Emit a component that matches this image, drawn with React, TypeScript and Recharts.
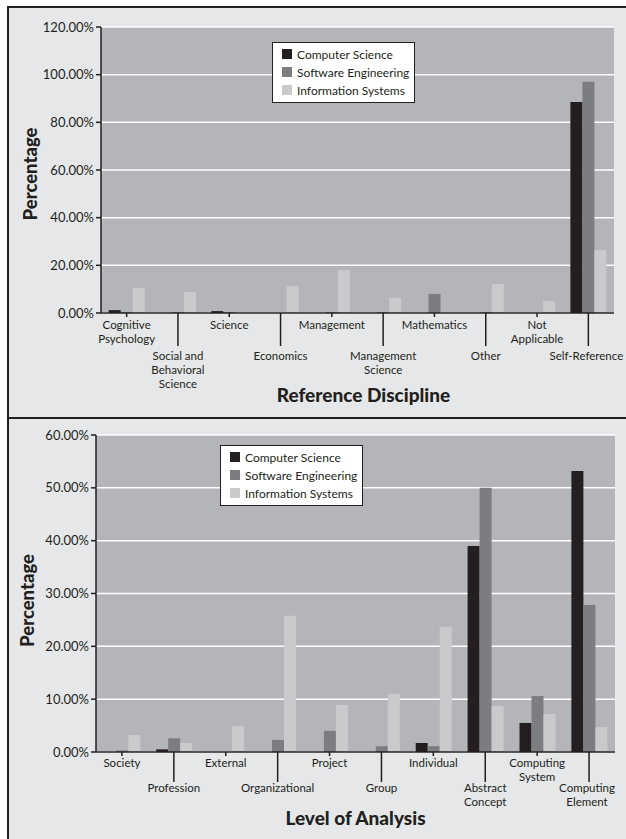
import React from "react"
import { BarChart, Bar, XAxis, YAxis, CartesianGrid, Legend } from "recharts"

// top panel: reference discipline
const disciplines = [
  "Cognitive\nPsychology",
  "Social and\nBehavioral\nScience",
  "Science",
  "Economics",
  "Management",
  "Management\nScience",
  "Mathematics",
  "Other",
  "Not\nApplicable",
  "Self-Reference",
]
const disciplineCS = [1.2, 0, 0.8, 0, 0, 0, 0, 0, 0, 88.5]
const disciplineSE = [0.4, 0.4, 0.4, 0, 0.4, 0.4, 8.0, 0.4, 0, 97.0]
const disciplineIS = [10.5, 8.8, 0, 11.3, 18.0, 6.4, 0, 12.2, 5.0, 26.4]
const disciplineTicks = [0, 20, 40, 60, 80, 100, 120]

// bottom panel: level of analysis
const levels = [
  "Society",
  "Profession",
  "External",
  "Organizational",
  "Project",
  "Group",
  "Individual",
  "Abstract\nConcept",
  "Computing\nSystem",
  "Computing\nElement",
]
const levelCS = [0, 0.5, 0, 0, 0, 0, 1.7, 39.0, 5.5, 53.2]
const levelSE = [0.3, 2.6, 0, 2.3, 4.0, 1.1, 1.1, 50.0, 10.6, 27.8]
const levelIS = [3.2, 1.7, 4.9, 25.8, 8.9, 11.0, 23.7, 8.7, 7.2, 4.7]
const levelTicks = [0, 10, 20, 30, 40, 50, 60]

const seriesNames = ["Computer Science", "Software Engineering", "Information Systems"]
const seriesColors = ["#231f20", "#7c7d81", "#c9cacc"]

const INK = "#231f20"
const PANEL = "#e6e7e8"
const PLOT = "#b4b5b8"

const toRows = (names: string[], cs: number[], se: number[], is: number[]) =>
  names.map((name, i) => ({ name, cs: cs[i], se: se[i], is: is[i] }))

const disciplineData = toRows(disciplines, disciplineCS, disciplineSE, disciplineIS)
const levelData = toRows(levels, levelCS, levelSE, levelIS)

const pct = (v: number) => `${v.toFixed(2)}%`

const makeTick = (highY: number, lowY: number, lineEnd: number, count: number) => (props: any) => {
  const { x, y, payload, index } = props
  const lines = String(payload.value).split("\n")
  const low = index % 2 === 1
  // keep the last label inside the frame
  const tx = index === count - 1 ? x - 2 : x
  return (
    <g>
      <line x1={x} y1={y} x2={x} y2={low ? y + lineEnd : y + 4} stroke={INK} strokeWidth={1.5} />
      <text x={tx} y={low ? y + lowY : y + highY} textAnchor="middle" fontSize={11.5} fill={INK}>
        {lines.map((l, i) => (
          <tspan key={i} x={tx} dy={i === 0 ? 0 : 14}>
            {l}
          </tspan>
        ))}
      </text>
    </g>
  )
}

const LegendBox = () => (
  <div
    style={{
      width: 143,
      height: 61,
      border: `1.5px solid ${INK}`,
      background: "#fff",
      boxSizing: "border-box",
      padding: "2px 0 0 9px",
      fontFamily: "Lato, sans-serif",
    }}
  >
    {seriesNames.map((name, i) => (
      <div key={name} style={{ display: "flex", alignItems: "center", height: 18, fontSize: 12, color: INK }}>
        <span style={{ width: 10, height: 10, background: seriesColors[i], marginRight: 5, display: "inline-block" }} />
        {name}
      </div>
    ))}
  </div>
)

interface PanelProps {
  data: { name: string; cs: number; se: number; is: number }[]
  width: number
  height: number
  margin: { top: number; right: number; bottom: number; left: number }
  yWidth: number
  xHeight: number
  yMax: number
  yTicks: number[]
  xTitle: string
  xTitleDy: number
  xTitleDx: number
  yTitleDx: number
  yTitleDy: number
  tick: (p: any) => React.ReactElement
  legendPos: { left: number; top: number }
  gap: string
}

const Panel = (p: PanelProps) => (
  <BarChart width={p.width} height={p.height} data={p.data} margin={p.margin} barGap={0} barCategoryGap={p.gap}>
    <CartesianGrid vertical={false} stroke="#ffffff" strokeWidth={1.5} fill={PLOT} fillOpacity={1} />
    <XAxis
      dataKey="name"
      interval={0}
      height={p.xHeight}
      tickSize={0}
      tickMargin={0}
      tickLine={false}
      axisLine={{ stroke: INK, strokeWidth: 1.5 }}
      tick={p.tick}
      label={{
        value: p.xTitle,
        position: "center",
        dy: p.xTitleDy,
        dx: p.xTitleDx,
        fontSize: 19,
        fontWeight: 900,
        fill: INK,
      }}
    />
    <XAxis
      xAxisId="top"
      orientation="top"
      dataKey="name"
      height={0}
      tick={false}
      tickLine={false}
      axisLine={{ stroke: "#4a4a4c", strokeWidth: 2 }}
    />
    <YAxis
      domain={[0, p.yMax]}
      ticks={p.yTicks}
      width={p.yWidth}
      tickFormatter={pct}
      tickSize={5}
      tickMargin={2}
      tickLine={{ stroke: INK, strokeWidth: 1.5 }}
      axisLine={{ stroke: INK, strokeWidth: 1.5 }}
      tick={{ fontSize: 13, fill: INK }}
      label={{
        value: "Percentage",
        angle: -90,
        position: "center",
        dx: p.yTitleDx,
        dy: p.yTitleDy,
        fontSize: 18.5,
        fontWeight: 900,
        fill: INK,
      }}
    />
    <YAxis
      yAxisId="right"
      orientation="right"
      width={0}
      tick={false}
      tickLine={false}
      axisLine={{ stroke: "#4a4a4c", strokeWidth: 2 }}
    />
    <Legend
      layout="vertical"
      align="center"
      verticalAlign="middle"
      content={<LegendBox />}
      wrapperStyle={{ left: p.legendPos.left, top: p.legendPos.top, width: 143 }}
    />
    <Bar dataKey="cs" name={seriesNames[0]} fill={seriesColors[0]} isAnimationActive={false} />
    <Bar dataKey="se" name={seriesNames[1]} fill={seriesColors[1]} isAnimationActive={false} />
    <Bar dataKey="is" name={seriesNames[2]} fill={seriesColors[2]} isAnimationActive={false} />
  </BarChart>
)

export default function App() {
  return (
    <div
      style={{
        position: "absolute",
        left: 0,
        top: 0,
        width: 626,
        height: 839,
        background: "#fff",
        overflow: "hidden",
        fontFamily: "Lato, sans-serif",
      }}
    >
      <div
        style={{
          position: "absolute",
          left: 7,
          top: 6,
          width: 640,
          height: 413,
          background: PANEL,
          borderLeft: `2px solid ${INK}`,
          borderTop: `2px solid ${INK}`,
          borderBottom: `2px solid ${INK}`,
          boxSizing: "border-box",
        }}
      />
      <div
        style={{
          position: "absolute",
          left: 7,
          top: 419,
          width: 640,
          height: 430,
          background: PANEL,
          borderLeft: `2px solid ${INK}`,
          boxSizing: "border-box",
        }}
      />
      <div style={{ position: "absolute", left: 0, top: 0 }}>
        <Panel
          data={disciplineData}
          width={626}
          height={417}
          margin={{ top: 27, right: 12, bottom: 24, left: 0 }}
          yWidth={101}
          xHeight={80}
          yMax={120}
          yTicks={disciplineTicks}
          xTitle="Reference Discipline"
          xTitleDy={42}
          xTitleDx={6}
          yTitleDx={-20}
          yTitleDy={4}
          tick={makeTick(16, 47, 33, disciplines.length)}
          legendPos={{ left: 272, top: 42 }}
          gap="15%"
        />
      </div>
      <div style={{ position: "absolute", left: 0, top: 417 }}>
        <Panel
          data={levelData}
          width={626}
          height={422}
          margin={{ top: 18, right: 11, bottom: 7, left: 0 }}
          yWidth={96}
          xHeight={80}
          yMax={60}
          yTicks={levelTicks}
          xTitle="Level of Analysis"
          xTitleDy={26}
          xTitleDx={0}
          yTitleDx={-21}
          yTitleDy={7}
          tick={makeTick(15, 40, 30, levels.length)}
          legendPos={{ left: 220, top: 28 }}
          gap="16%"
        />
      </div>
    </div>
  )
}
